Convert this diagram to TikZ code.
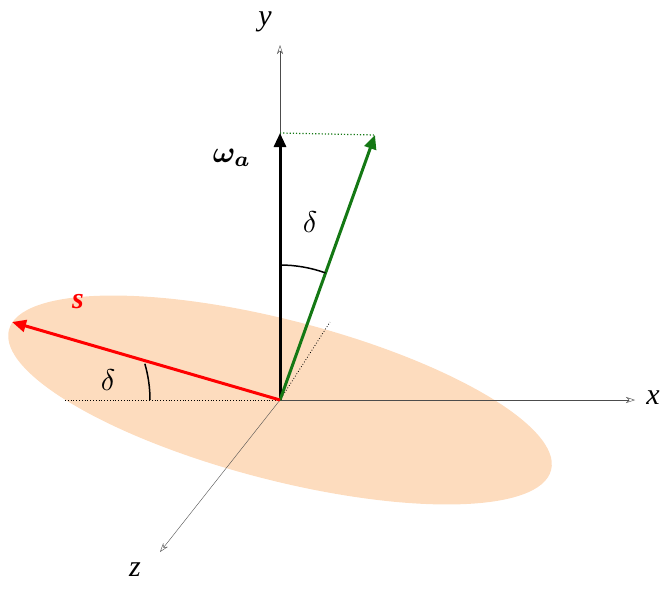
\documentclass[tikz,border=0pt]{standalone}
\usepackage{amsmath}
\usepackage{bm}
\usepackage{fontspec}
\setmainfont{Liberation Serif}
\usetikzlibrary{arrows.meta}
\definecolor{peach}{RGB}{253,220,190}
\definecolor{dgreen}{RGB}{20,120,20}
\tikzset{axis/.style={draw=black!70,-{Stealth[length=9pt,width=6pt,open]}},
lbl/.style={scale=3,font=\itshape},
sym/.style={scale=3}}
\begin{document}
\begin{tikzpicture}[x=1pt,y=-1pt]
\useasboundingbox (0,0) rectangle (672,594);
\fill[peach,rotate around={-14.5:(280,400)}] (280,400) ellipse [x radius=280, y radius=80];
\coordinate (O) at (280,400);
\coordinate (Y) at (280,45);
\coordinate (X) at (635,400);
\coordinate (Z) at (160,552);
\coordinate (W) at (280,133);
\coordinate (G) at (375,135);
\coordinate (S) at (12,322);
\coordinate (D) at (330,322);
\coordinate (L) at (65,400);
\draw[axis] (O) -- (Y);
\draw[axis] (O) -- (X);
\draw[axis] (O) -- (Z);
\draw[dotted,thick] (L) -- (O);
\draw[dotted,thick] (O) -- (D);
\draw[dotted,dgreen,very thick] (W) -- (G);
\draw[line width=3pt,-{Triangle[length=14pt,width=12pt]}] (O) -- (W);
\draw[line width=3pt,dgreen,-{Triangle[length=14pt,width=12pt]}] (O) -- (G);
\draw[line width=3pt,red,-{Triangle[length=14pt,width=12pt]}] (O) -- (S);
\draw[line width=1.5pt] (280,265) arc[start angle=-90,end angle=-70.3,radius=135];
\draw[line width=1.5pt] (150,400) arc[start angle=0,end angle=-16.2,radius=130];
\node[lbl] (ly) at (265,22) {y};
\node[lbl] (lx) at (653,398) {x};
\node[lbl] (lz) at (135,570) {z};
\node[sym] (lw) at (232,158) {$\bm{\omega_a}$};
\node[lbl,red,font=\bfseries\itshape] (ls) at (78,302) {s};
\node[sym] (d1) at (310,222) {$\delta$};
\node[sym] (d2) at (108,380) {$\delta$};
\end{tikzpicture}
\end{document}
